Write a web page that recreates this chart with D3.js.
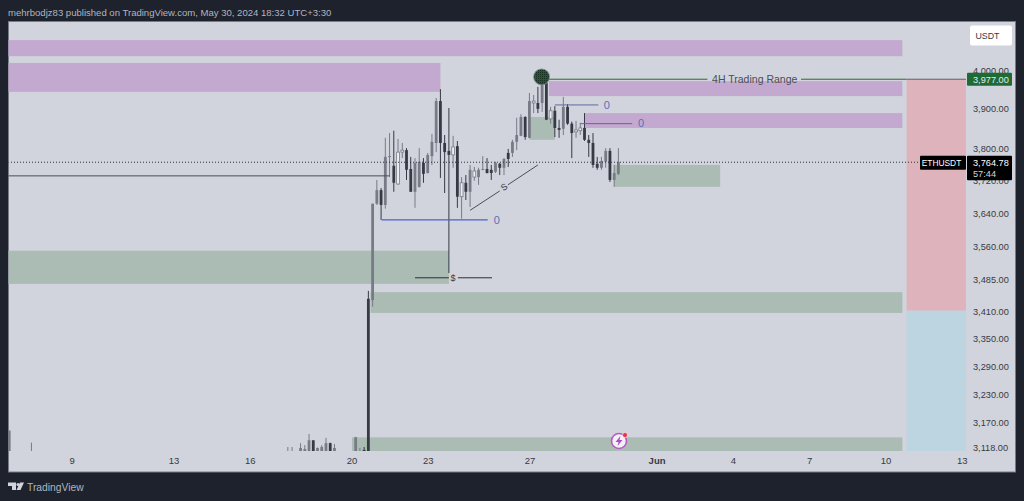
<!DOCTYPE html>
<html>
<head>
<meta charset="utf-8">
<script src="https://cdn.jsdelivr.net/npm/d3@7"></script>
<style>
    html, body { margin: 0; padding: 0; background: #1e222d; overflow: hidden; }
</style>
</head>
<body>
<svg id="chart" width="1024" height="501" font-family="Liberation Sans"></svg>
<script>
// ETHUSDT 4H, May 20 20:00 UTC onwards
const barStart = '2024-05-20T20:00:00Z';
const barOpen = [3437, 3663, 3696, 3660, 3778, 3756, 3711, 3790, 3795, 3748, 3692, 3704, 3763, 3738, 3780, 3813, 3920, 3813, 3793, 3783, 3805, 3680, 3714, 3692, 3728, 3728, 3746, 3748, 3746, 3741, 3761, 3751, 3788, 3788, 3816, 3831, 3879, 3826, 3915, 3915, 3915, 3967, 3874, 3895, 3851, 3849, 3905, 3862, 3841, 3844, 3851, 3821, 3813, 3761, 3751, 3766, 3793, 3721, 3736];
const barHigh = [3663, 3721, 3701, 3826, 3838, 3844, 3823, 3813, 3800, 3778, 3775, 3800, 3775, 3788, 3836, 3928, 3951, 3833, 3902, 3831, 3818, 3728, 3733, 3758, 3753, 3751, 3780, 3775, 3758, 3766, 3763, 3775, 3798, 3821, 3877, 3886, 3881, 3941, 3936, 3957, 3977, 3972, 3905, 3907, 3872, 3931, 3912, 3867, 3869, 3864, 3889, 3833, 3838, 3778, 3778, 3800, 3800, 3758, 3800];
const barLow = [3422, 3660, 3624, 3651, 3728, 3692, 3709, 3775, 3721, 3692, 3653, 3702, 3714, 3737, 3758, 3790, 3726, 3689, 3499, 3751, 3653, 3627, 3672, 3655, 3719, 3709, 3745, 3737, 3721, 3738, 3733, 3733, 3753, 3778, 3795, 3830, 3821, 3825, 3889, 3889, 3892, 3871, 3862, 3828, 3826, 3833, 3859, 3775, 3826, 3833, 3818, 3778, 3751, 3746, 3746, 3751, 3716, 3704, 3733];
const barClose = [3663, 3696, 3660, 3778, 3780, 3714, 3790, 3795, 3746, 3692, 3763, 3766, 3736, 3783, 3816, 3920, 3813, 3790, 3783, 3803, 3680, 3714, 3692, 3746, 3743, 3746, 3748, 3738, 3738, 3763, 3751, 3773, 3773, 3816, 3833, 3879, 3828, 3920, 3920, 3900, 3967, 3872, 3895, 3851, 3846, 3905, 3862, 3838, 3846, 3851, 3821, 3813, 3758, 3751, 3768, 3793, 3721, 3738, 3764.78];
const barHollow = [6, 7, 19, 21, 24, 38, 42, 48, 49];

// scattered bars further left, mostly under the bottom of the pane
const earlyTimes = ['2024-05-06T13:00:00Z', '2024-05-07T10:00:00Z', '2024-05-17T12:00:00Z', '2024-05-17T16:00:00Z', '2024-05-18T00:00:00Z', '2024-05-18T04:00:00Z', '2024-05-18T08:00:00Z', '2024-05-18T12:00:00Z', '2024-05-18T16:00:00Z', '2024-05-18T20:00:00Z', '2024-05-19T00:00:00Z', '2024-05-19T04:00:00Z', '2024-05-19T08:00:00Z', '2024-05-20T04:00:00Z', '2024-05-20T08:00:00Z', '2024-05-20T12:00:00Z', '2024-05-20T16:00:00Z'];
const earlyOpen = [3105, 3100, 3105, 3105, 3105, 3105, 3105, 3133, 3105, 3105, 3105, 3127, 3105, 3105, 3105, 3113, 3440];
const earlyHigh = [3153, 3128, 3119, 3119, 3127, 3123, 3146, 3132, 3118, 3123, 3138, 3128, 3125, 3140, 3117, 3119, 3458];
const earlyLow = [3100, 3100, 3100, 3100, 3100, 3100, 3100, 3100, 3100, 3100, 3100, 3100, 3100, 3100, 3100, 3100, 3100];
const earlyClose = [3153, 3100, 3106, 3106, 3117, 3115, 3133, 3100, 3117, 3119, 3127, 3100, 3117, 3139, 3106, 3100, 3105];

const priceTicks = [4000, 3900, 3800, 3720, 3640, 3560, 3485, 3410, 3350, 3290, 3230, 3170, 3118];
const dayTicks = ['2024-05-09', '2024-05-13', '2024-05-16', '2024-05-20', '2024-05-23', '2024-05-27', '2024-06-01', '2024-06-04', '2024-06-07', '2024-06-10', '2024-06-13'];

// supply (purple) and demand (green) zones: start, end, high, low
const supplyZones = [
    ['2024-05-01', '2024-06-10T16:00:00Z', 4081, 4038],
    ['2024-05-01', '2024-05-23T12:00:00Z', 4020, 3944],
    ['2024-05-27T18:30:00Z', '2024-06-10T16:00:00Z', 3972, 3933],
    ['2024-05-29T04:00:00Z', '2024-06-10T16:00:00Z', 3889, 3851],
];
const demandZones = [
    ['2024-05-01', '2024-05-23T20:00:00Z', 3551, 3474],
    ['2024-05-20T18:00:00Z', '2024-06-10T16:00:00Z', 3455, 3408],
    ['2024-05-30T08:00:00Z', '2024-06-03T12:00:00Z', 3758, 3704],
    ['2024-05-27T00:00:00Z', '2024-05-28T00:00:00Z', 3879, 3821],
    ['2024-05-20T00:30:00Z', '2024-06-10T16:00:00Z', 3139, 3100],
];
// short position tool
const rangeStart = '2024-06-10T20:00:00Z';
const rangeEnd = '2024-06-13T04:00:00Z';
const rangeTop = 3977;
const rangeMid = 3413;
const rangeBottom = 3100;
const lastPrice = 3764.78;

const margin = { left: 8, top: 22, right: 1015, bottom: 472 };
const paneBottom = 451;

const x = d3.scaleUtc()
    .domain([new Date('2024-05-09T00:00:00Z'), new Date('2024-06-13T00:00:00Z')])
    .range([71.7, 961.7]);
const y = d3.scaleLog()
    .domain([3118, 4000])
    .range([447.5, 70.5]);
const t = (s) => x(new Date(s));

const svg = d3.select('#chart');

const defs = svg.append('defs');
defs.append('clipPath').attr('id', 'pane')
    .append('rect')
    .attr('x', margin.left + 0.5)
    .attr('y', margin.top)
    .attr('width', 1012 - margin.left)
    .attr('height', paneBottom - margin.top);
const dots = defs.append('pattern').attr('id', 'dots')
    .attr('width', 2).attr('height', 2)
    .attr('patternUnits', 'userSpaceOnUse');
dots.append('rect').attr('width', 2).attr('height', 2).attr('fill', '#1f5a33');
dots.append('rect').attr('width', 1).attr('height', 1).attr('fill', '#16301f');

// header and frame
svg.append('text')
    .attr('x', 8)
    .attr('y', 15.5)
    .attr('fill', '#b2b5be')
    .attr('font-size', 9.55)
    .text('mehrbodjz83 published on TradingView.com, May 30, 2024 18:32 UTC+3:30');

svg.append('rect')
    .attr('x', margin.left + 0.5)
    .attr('y', margin.top - 0.5)
    .attr('width', margin.right - margin.left)
    .attr('height', margin.bottom - margin.top + 0.5)
    .attr('fill', '#d1d4dc')
    .attr('stroke', '#787b86');

const pane = svg.append('g').attr('clip-path', 'url(#pane)');

function drawZones(zones, color) {
    pane.append('g')
        .selectAll('rect')
        .data(zones)
        .enter()
        .append('rect')
        .attr('x', (d) => t(d[0]))
        .attr('y', (d) => y(d[2]))
        .attr('width', (d) => t(d[1]) - t(d[0]))
        .attr('height', (d) => y(d[3]) - y(d[2]))
        .attr('fill', color);
}
drawZones(supplyZones, '#c3a9cf');
drawZones(demandZones, '#aabcb3');

pane.append('rect')
    .attr('x', t(rangeStart))
    .attr('y', y(rangeTop))
    .attr('width', t(rangeEnd) - t(rangeStart))
    .attr('height', y(rangeMid) - y(rangeTop))
    .attr('fill', '#dfb3bb');
pane.append('rect')
    .attr('x', t(rangeStart))
    .attr('y', y(rangeMid))
    .attr('width', t(rangeEnd) - t(rangeStart))
    .attr('height', y(rangeBottom) - y(rangeMid))
    .attr('fill', '#bdd5e0');

// candles
const mainBars = barOpen.map((open, i) => ({
    time: d3.utcHour.offset(new Date(barStart), i * 4),
    open,
    high: barHigh[i],
    low: barLow[i],
    close: barClose[i],
    hollow: barHollow.includes(i),
}));
const earlyBars = earlyTimes.map((s, i) => ({
    time: new Date(s),
    open: earlyOpen[i],
    high: earlyHigh[i],
    low: earlyLow[i],
    close: earlyClose[i],
    hollow: false,
}));
const bars = earlyBars.concat(mainBars);
const barColor = (d) => (d.close >= d.open ? '#787b86' : '#363a45');

const candles = pane.append('g')
    .selectAll('g')
    .data(bars)
    .enter()
    .append('g');
candles.append('line')
    .attr('x1', (d) => x(d.time))
    .attr('x2', (d) => x(d.time))
    .attr('y1', (d) => y(d.high))
    .attr('y2', (d) => y(d.low))
    .attr('stroke', barColor)
    .attr('stroke-width', 1);
candles.append('rect')
    .attr('x', (d) => x(d.time) - 1.4)
    .attr('y', (d) => y(Math.max(d.open, d.close)))
    .attr('width', 2.8)
    .attr('height', (d) => Math.max(1, Math.abs(y(d.open) - y(d.close))))
    .attr('fill', (d) => (d.hollow ? '#eceef2' : barColor(d)))
    .attr('stroke', (d) => (d.hollow ? '#787b86' : 'none'))
    .attr('stroke-width', 0.8);

// drawings
function drawLine(x1, price1, x2, price2, color, width) {
    pane.append('line')
        .attr('x1', t(x1))
        .attr('y1', y(price1))
        .attr('x2', t(x2))
        .attr('y2', y(price2))
        .attr('stroke', color)
        .attr('stroke-width', width);
}
function drawLabel(time, price, label, color, size) {
    return pane.append('text')
        .attr('x', t(time))
        .attr('y', y(price))
        .attr('dy', '0.35em')
        .attr('text-anchor', 'middle')
        .attr('fill', color)
        .attr('font-size', size)
        .text(label);
}

drawLine('2024-05-01', 3731, '2024-05-21T12:00:00Z', 3731, '#4a4e5a', 1);

drawLine('2024-05-21T04:30:00Z', 3624, '2024-05-25T08:40:00Z', 3624, '#4a64c4', 1.2);
drawLabel('2024-05-25T17:20:00Z', 3624, '0', '#5a70b8', 11);
drawLine('2024-05-28T00:00:00Z', 3910, '2024-05-29T17:00:00Z', 3910, '#5d6b9e', 1);
drawLabel('2024-05-30T01:00:00Z', 3910, '0', '#5a70b8', 11);
drawLine('2024-05-29T00:00:00Z', 3862, '2024-05-31T01:00:00Z', 3862, '#5d6b9e', 1);
drawLabel('2024-05-31T09:20:00Z', 3862, '0', '#5a70b8', 11);

// sweep trend line with its S, broken around the letter
drawLine('2024-05-24T16:00:00Z', 3647, '2024-05-25T20:00:00Z', 3694, '#4a4e5a', 1);
drawLine('2024-05-26T03:40:00Z', 3709, '2024-05-27T08:00:00Z', 3758, '#4a4e5a', 1);
drawLabel('2024-05-26T00:00:00Z', 3704, 'S', '#363a45', 9)
    .attr('transform', `rotate(-33 ${t('2024-05-26T00:00:00Z')} ${y(3704)})`);

drawLine('2024-05-22T12:00:00Z', 3488, '2024-05-23T20:00:00Z', 3488, '#2a2e39', 1);
drawLine('2024-05-24T04:30:00Z', 3488, '2024-05-25T12:40:00Z', 3488, '#2a2e39', 1);
drawLabel('2024-05-24T00:00:00Z', 3488, '$', '#363a45', 9);

// 4H range line with the label breaking it
drawLine('2024-05-27T18:00:00Z', 3977, '2024-06-03T00:00:00Z', 3977, '#2a6a35', 1);
drawLine('2024-06-06T16:20:00Z', 3977, '2024-06-10T20:00:00Z', 3977, '#2a6a35', 1);
drawLine('2024-06-10T20:00:00Z', 3977, rangeEnd, 3977, '#5d606b', 1);
drawLabel('2024-06-04T20:40:00Z', 3977, '4H Trading Range', '#4a4e5a', 10.5);

pane.append('circle')
    .attr('cx', t('2024-05-27T11:30:00Z'))
    .attr('cy', y(3983))
    .attr('r', 8)
    .attr('fill', 'url(#dots)')
    .attr('stroke', '#8a8f9a')
    .attr('stroke-width', 0.8);

// last price line
pane.append('line')
    .attr('x1', margin.left)
    .attr('x2', 966)
    .attr('y1', y(lastPrice))
    .attr('y2', y(lastPrice))
    .attr('stroke', '#2a2e39')
    .attr('stroke-dasharray', '1 2');

// axes
const yAxis = d3.axisRight(y)
    .tickValues(priceTicks)
    .tickFormat(d3.format(',.2f'))
    .tickSize(0)
    .tickPadding(0);
svg.append('g')
    .attr('transform', 'translate(973,0)')
    .call(yAxis)
    .call((g) => g.select('.domain').remove())
    .call((g) => g.selectAll('text')
        .attr('fill', '#363a45')
        .attr('font-size', 9.2)
        .attr('font-family', 'Liberation Sans'));

const xAxis = d3.axisBottom(x)
    .tickValues(dayTicks.map((s) => new Date(`${s}T00:00:00Z`)))
    .tickFormat((d) => (d.getUTCDate() === 1 ? 'Jun' : d.getUTCDate()))
    .tickSize(0)
    .tickPadding(0);
svg.append('g')
    .attr('transform', 'translate(0,457)')
    .call(xAxis)
    .call((g) => g.select('.domain').remove())
    .call((g) => g.selectAll('text')
        .attr('fill', '#363a45')
        .attr('font-size', 9.5)
        .attr('font-family', 'Liberation Sans')
        .attr('font-weight', (d) => (d.getUTCDate() === 1 ? 'bold' : 'normal')));

// price tags
svg.append('rect')
    .attr('x', 970).attr('y', 25.5)
    .attr('width', 42).attr('height', 20)
    .attr('rx', 2)
    .attr('fill', '#ffffff');
svg.append('text')
    .attr('x', 987.5).attr('y', 39)
    .attr('text-anchor', 'middle')
    .attr('fill', '#363a45')
    .attr('font-size', 8.8)
    .text('USDT');

svg.append('rect')
    .attr('x', 967).attr('y', y(rangeTop) - 6.5)
    .attr('width', 45).attr('height', 13)
    .attr('rx', 1)
    .attr('fill', '#1f6b35');
svg.append('text')
    .attr('x', 973).attr('y', y(rangeTop) + 3.3)
    .attr('fill', '#e8eaee')
    .attr('font-size', 9.2)
    .text(d3.format(',.2f')(rangeTop));

svg.append('rect')
    .attr('x', 920).attr('y', y(lastPrice) - 6.5)
    .attr('width', 46).attr('height', 14)
    .attr('rx', 1)
    .attr('fill', '#000000');
svg.append('text')
    .attr('x', 941.5).attr('y', y(lastPrice) + 4)
    .attr('text-anchor', 'middle')
    .attr('fill', '#ffffff')
    .attr('font-size', 8.4)
    .text('ETHUSDT');

svg.append('rect')
    .attr('x', 967).attr('y', y(lastPrice) - 6.5)
    .attr('width', 45).attr('height', 24.5)
    .attr('rx', 1)
    .attr('fill', '#000000');
svg.append('text')
    .attr('x', 973).attr('y', y(lastPrice) + 3.5)
    .attr('fill', '#ffffff')
    .attr('font-size', 9.2)
    .text(d3.format(',.2f')(lastPrice));
svg.append('text')
    .attr('x', 973).attr('y', y(lastPrice) + 14.5)
    .attr('fill', '#d1d4dc')
    .attr('font-size', 9.2)
    .text('57:44');

// flash icon
const flash = svg.append('g').attr('transform', 'translate(619,441)');
flash.append('circle')
    .attr('r', 7.5)
    .attr('fill', '#f4f0f6')
    .attr('stroke', '#b45cc4')
    .attr('stroke-width', 1.6);
flash.append('path')
    .attr('d', 'M1.5,-5 L-3.5,1 L-0.5,1 L-1.5,5 L3.5,-1 L0.5,-1 Z')
    .attr('fill', '#a94fc0');
flash.append('circle')
    .attr('cx', 6)
    .attr('cy', -6)
    .attr('r', 2.5)
    .attr('fill', '#e8304a')
    .attr('stroke', '#ffffff')
    .attr('stroke-width', 0.6);

// footer logo
svg.append('path')
    .attr('d', 'M8,482.5 H16 V490 H12 V486 H8 Z M24,482.5 L20.5,490 H16.5 L20,482.5 Z')
    .attr('fill', '#d1d4dc');
svg.append('circle').attr('cx', 18).attr('cy', 484.5).attr('r', 1.6).attr('fill', '#d1d4dc');
svg.append('text')
    .attr('x', 27)
    .attr('y', 491)
    .attr('fill', '#b2b5be')
    .attr('font-size', 10.3)
    .text('TradingView');
</script>
</body>
</html>
